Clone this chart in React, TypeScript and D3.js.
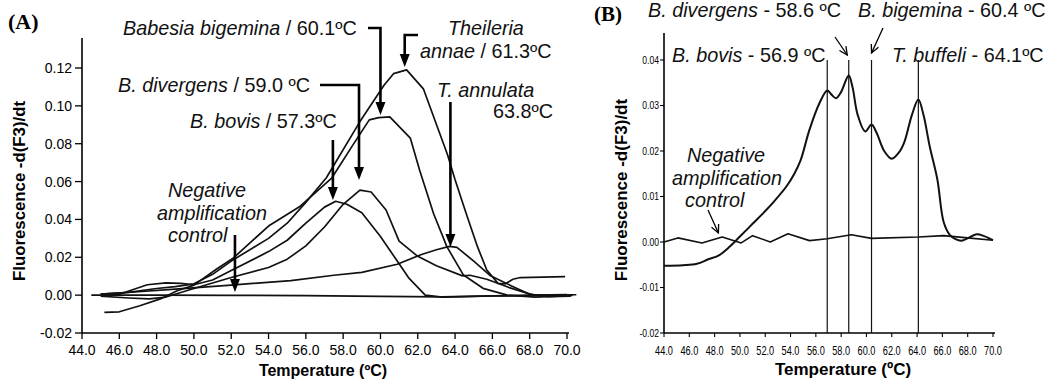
import * as d3 from 'd3'

// ---- data (temperature ºC, -d(F3)/dt) ----
const TEMP_TICKS = [44, 46, 48, 50, 52, 54, 56, 58, 60, 62, 64, 66, 68, 70]
const A_Y_TICKS = [-0.02, 0, 0.02, 0.04, 0.06, 0.08, 0.1, 0.12]
const B_Y_TICKS = [-0.02, -0.01, 0, 0.01, 0.02, 0.03, 0.04]

type Pt = [number, number]

const A_BIGEMINA: Pt[] = [
  [45.2, -0.0091], [46.0, -0.0088], [47.1, -0.0056], [48.2, -0.002], [49.1, 0.0023], [50.0, 0.0053],
  [51.2, 0.0137], [52.1, 0.0195], [54.0, 0.0365], [55.7, 0.047], [57.4, 0.062], [58.5, 0.079],
  [59.4, 0.0926], [59.9, 0.0938], [60.5, 0.0942], [61.6, 0.083], [62.1, 0.066], [62.85, 0.043],
  [63.56, 0.0256], [64.45, 0.0106], [65.5, 0.0036], [66.8, 0.0], [68.3, -0.001], [70.2, -0.0003],
]
const A_ANNAE: Pt[] = [
  [45.0, 0.0005], [46.5, 0.0015], [48.0, 0.0035], [49.0, 0.0045], [50.0, 0.006], [51.0, 0.011],
  [52.0, 0.018], [54.0, 0.03], [55.0, 0.038], [56.0, 0.049], [57.1, 0.062], [58.9, 0.0917],
  [60.2, 0.111], [60.7, 0.117], [61.4, 0.119], [62.3, 0.109], [63.6, 0.074], [64.0, 0.061],
  [64.6, 0.043], [65.2, 0.0256], [65.7, 0.0133], [66.3, 0.0062], [66.7, 0.006], [67.1, 0.0084],
  [67.5, 0.0093], [69.9, 0.0098],
]
const A_DIVERGENS: Pt[] = [
  [45.0, -0.0005], [46.5, -0.0015], [47.6, -0.002], [48.5, -0.001], [50.0, 0.0035], [52.0, 0.0093],
  [54.0, 0.0146], [55.0, 0.019], [56.0, 0.026], [57.0, 0.036], [58.0, 0.048], [58.9, 0.0555],
  [59.5, 0.0545], [60.3, 0.045], [61.0, 0.0285], [62.0, 0.0205], [63.0, 0.0155], [64.4, 0.0102],
  [64.8, 0.0105], [65.7, 0.0084], [66.9, 0.004], [68.2, 0.0], [70.0, 0.0003],
]
const A_BOVIS: Pt[] = [
  [45.0, 0.0], [46.0, 0.0005], [47.5, 0.0055], [48.5, 0.0065], [49.3, 0.0062], [50.0, 0.0055],
  [51.0, 0.008], [52.0, 0.013], [54.0, 0.023], [55.0, 0.029], [56.0, 0.038], [57.0, 0.0465],
  [57.6, 0.0496], [58.2, 0.048], [59.0, 0.0435], [60.0, 0.031], [60.9, 0.018], [61.5, 0.0093],
  [62.4, 0.0], [63.3, -0.001], [64.5, -0.0008], [66.0, -0.0004], [70.3, -0.0002],
]
const A_ANNULATA: Pt[] = [
  [45.0, 0.0005], [47.0, 0.0018], [49.0, 0.0032], [52.0, 0.0053], [55.2, 0.0077], [57.5, 0.0105],
  [59.0, 0.012], [60.9, 0.0163], [62.2, 0.0215], [63.0, 0.024], [63.7, 0.0258], [64.1, 0.0252],
  [65.0, 0.018], [65.9, 0.0102], [67.0, 0.005], [68.0, 0.0005], [69.0, -0.0008], [70.2, -0.0005],
]
const A_NEGATIVE: Pt[] = [
  [44.5, 0.0], [48.0, 0.0], [52.0, -0.0001], [56.0, -0.0003], [60.0, -0.0006], [63.3, -0.0009],
  [66.0, -0.0004], [68.0, 0.0], [70.5, 0.0002],
]

const B_SAMPLE: Pt[] = [
  [44.0, -0.0052], [45.5, -0.0051], [46.6, -0.0048], [47.5, -0.0038], [48.3, -0.003], [49.2, -0.001],
  [50.0, 0.0012], [51.0, 0.004], [52.0, 0.0068], [52.6, 0.0086], [53.7, 0.0123], [54.3, 0.015],
  [54.8, 0.018], [55.5, 0.0247], [56.3, 0.0306], [56.9, 0.0333], [57.2, 0.0325], [57.6, 0.0316],
  [58.0, 0.033], [58.6, 0.0366], [58.9, 0.034], [59.3, 0.028], [59.9, 0.0243], [60.4, 0.0258],
  [60.8, 0.024], [61.4, 0.02], [62.0, 0.0183], [62.6, 0.0198], [63.0, 0.022], [63.6, 0.028],
  [64.1, 0.0313], [64.5, 0.028], [65.0, 0.021], [65.6, 0.0138], [66.1, 0.0044], [66.6, 0.0015],
  [67.0, 0.0007], [67.5, 0.0003], [68.0, 0.0008], [68.7, 0.0017], [69.3, 0.0013], [70.0, 0.0004],
]
const B_NEGATIVE: Pt[] = [
  [44.0, 0.0], [45.1, 0.0009], [47.0, -0.0002], [48.6, 0.0011], [50.1, -0.0002], [51.0, 0.0014],
  [52.4, 0.0], [53.8, 0.0018], [55.5, 0.0003], [56.9, 0.0007], [58.8, 0.0016], [60.4, 0.0008],
  [64.1, 0.0011], [66.1, 0.0014], [68.0, 0.0009], [70.0, 0.0004],
]

// melting temperatures marked in panel B
const B_TM = [56.9, 58.6, 60.4, 64.1]

// ---- layout ----
const SANS = '"Liberation Sans", Arial, sans-serif'
const xA = d3.scaleLinear().domain([44, 70]).range([82, 567])
const yA = d3.scaleLinear().domain([-0.02, 0.12]).range([333, 68])
const xB = d3.scaleLinear().domain([44, 70]).range([664, 993])
const yB = d3.scaleLinear().domain([-0.02, 0.04]).range([333, 60])

const lineA = d3.line<Pt>().x(d => xA(d[0])).y(d => yA(d[1]))
const lineB = d3.line<Pt>().x(d => xB(d[0])).y(d => yB(d[1])).curve(d3.curveCatmullRom.alpha(0.5))
const lineBNeg = d3.line<Pt>().x(d => xB(d[0])).y(d => yB(d[1]))

function Head({ x, tip }: { x: number; tip: number }) {
  return <path d={`M${x - 5},${tip - 13}L${x + 5},${tip - 13}L${x},${tip}Z`} fill="#000" />
}

// leader line with a filled arrow head (panel A)
function Leader({ from, x, tip }: { from: [number, number]; x: number; tip: number }) {
  return (
    <g>
      <path d={`M${from[0]},${from[1]}H${x}V${tip - 12}`} fill="none" stroke="#000" strokeWidth={2.6} />
      <Head x={x} tip={tip} />
    </g>
  )
}

// thin line arrow with open head (panel B)
function ThinArrow({ x1, y1, x2, y2 }: { x1: number; y1: number; x2: number; y2: number }) {
  const a = Math.atan2(y2 - y1, x2 - x1)
  const L = 9
  const h1 = [x2 - L * Math.cos(a - 0.45), y2 - L * Math.sin(a - 0.45)]
  const h2 = [x2 - L * Math.cos(a + 0.45), y2 - L * Math.sin(a + 0.45)]
  return (
    <g stroke="#000" strokeWidth={1.3} fill="none">
      <line x1={x1} y1={y1} x2={x2} y2={y2} />
      <path d={`M${h1[0]},${h1[1]}L${x2},${y2}L${h2[0]},${h2[1]}`} />
    </g>
  )
}

function Lab({ x, y, it, rest, anchor = 'start' }: { x: number; y: number; it?: string; rest?: string; anchor?: string }) {
  return (
    <text x={x} y={y} fontFamily={SANS} fontSize={19.8} textAnchor={anchor as any} fill="#111">
      {it && <tspan fontStyle="italic">{it}</tspan>}
      {rest}
    </text>
  )
}

export default function App() {
  const curvesA = [A_BIGEMINA, A_ANNAE, A_DIVERGENS, A_BOVIS, A_ANNULATA, A_NEGATIVE]
  return (
    <svg width={1051} height={379} style={{ position: 'absolute', left: 0, top: 0, background: '#fff' }}>
      {/* ---------- Panel A ---------- */}
      <text x={8} y={29} fontFamily='"Liberation Serif", "Times New Roman", serif' fontWeight="bold" fontSize={22}>(A)</text>

      <line x1={82} x2={82} y1={38} y2={333} stroke="#000" strokeWidth={1.6} />
      <line x1={82} x2={569} y1={333} y2={333} stroke="#000" strokeWidth={1.6} />
      {A_Y_TICKS.map(t => (
        <g key={t}>
          <line x1={75} x2={82} y1={yA(t)} y2={yA(t)} stroke="#000" strokeWidth={1.3} />
          <text x={72} y={yA(t)} dy="0.36em" textAnchor="end" fontFamily={SANS} fontSize={14}>{t.toFixed(2)}</text>
        </g>
      ))}
      {TEMP_TICKS.map(t => (
        <g key={t}>
          <line x1={xA(t)} x2={xA(t)} y1={333} y2={339} stroke="#000" strokeWidth={1.3} />
          <text x={xA(t)} y={355} textAnchor="middle" fontFamily={SANS} fontSize={14}>{t.toFixed(1)}</text>
        </g>
      ))}
      <text x={323} y={376} textAnchor="middle" fontFamily={SANS} fontWeight="bold" fontSize={16}>Temperature (ºC)</text>
      <text transform="translate(19,191) rotate(-90)" textAnchor="middle" dy="0.35em" fontFamily={SANS} fontWeight="bold" fontSize={16.8}>
        Fluorescence -d(F3)/dt
      </text>

      {curvesA.map((c, i) => (
        <path key={i} d={lineA(c) ?? ''} fill="none" stroke="#111" strokeWidth={1.7} strokeLinejoin="round" />
      ))}

      {/* annotations A */}
      <Lab x={123} y={35} it="Babesia bigemina" rest=" / 60.1ºC" />
      <Leader from={[368, 28]} x={xA(60.0)} tip={yA(0.0952)} />

      <Lab x={448} y={35} it="Theileria" />
      <Lab x={420} y={58} it="annae" rest=" / 61.3ºC" />
      <Leader from={[418, 35]} x={xA(61.3)} tip={yA(0.1205)} />

      <Lab x={118} y={92} it="B. divergens" rest=" / 59.0 ºC" />
      <Leader from={[320, 85]} x={xA(58.85)} tip={yA(0.0608)} />

      <Lab x={190} y={128} it="B. bovis" rest=" / 57.3ºC" />
      <Leader from={[xA(57.45), 140]} x={xA(57.45)} tip={yA(0.0503)} />

      <Lab x={437} y={97} it="T. annulata" />
      <Lab x={553} y={118} rest="63.8ºC" anchor="end" />
      <Leader from={[xA(63.75), 102]} x={xA(63.75)} tip={yA(0.0255)} />

      <Lab x={168} y={197} it="Negative" />
      <Lab x={157} y={220} it="amplification" />
      <Lab x={168} y={242} it="control" />
      <Leader from={[xA(52.2), 235]} x={xA(52.2)} tip={yA(0.0017)} />

      {/* ---------- Panel B ---------- */}
      <text x={594} y={21} fontFamily='"Liberation Serif", "Times New Roman", serif' fontWeight="bold" fontSize={21}>(B)</text>

      <line x1={664} x2={664} y1={33} y2={333} stroke="#000" strokeWidth={1.6} />
      <line x1={664} x2={995} y1={333} y2={333} stroke="#000" strokeWidth={1.6} />
      {B_Y_TICKS.map(t => (
        <g key={t}>
          <line x1={660} x2={664} y1={yB(t)} y2={yB(t)} stroke="#000" strokeWidth={1.1} />
          <text transform={`translate(659,${yB(t)}) scale(0.78,1)`} dy="0.36em" textAnchor="end" fontFamily={SANS} fontSize={11}>
            {t.toFixed(2)}
          </text>
        </g>
      ))}
      {TEMP_TICKS.map(t => (
        <g key={t}>
          <line x1={xB(t)} x2={xB(t)} y1={333} y2={337} stroke="#000" strokeWidth={1.1} />
          <text transform={`translate(${xB(t)},355) scale(0.68,1)`} textAnchor="middle" fontFamily={SANS} fontSize={13.5}>
            {t.toFixed(1)}
          </text>
        </g>
      ))}
      <text x={843} y={375} textAnchor="middle" fontFamily={SANS} fontWeight="bold" fontSize={17}>Temperature (ºC)</text>
      <text transform="translate(621,190) rotate(-90)" textAnchor="middle" dy="0.35em" fontFamily={SANS} fontWeight="bold" fontSize={17}>
        Fluorescence -d(F3)/dt
      </text>

      {B_TM.map(t => (
        <line key={t} x1={xB(t)} x2={xB(t)} y1={yB(0.04)} y2={333} stroke="#111" strokeWidth={1.2} />
      ))}
      <path d={lineBNeg(B_NEGATIVE) ?? ''} fill="none" stroke="#111" strokeWidth={1.6} strokeLinejoin="round" />
      <path d={lineB(B_SAMPLE) ?? ''} fill="none" stroke="#111" strokeWidth={2} strokeLinejoin="round" />

      <Lab x={648} y={17} it="B. divergens" rest=" - 58.6 ºC" />
      <Lab x={858} y={17} it="B. bigemina" rest=" - 60.4 ºC" />
      <Lab x={672} y={62} it="B. bovis" rest=" - 56.9 ºC" />
      <Lab x={892} y={62} it="T. buffeli" rest=" - 64.1ºC" />
      <ThinArrow x1={835} y1={37} x2={xB(58.6) - 1.5} y2={55} />
      <ThinArrow x1={883} y1={28} x2={xB(60.4)} y2={53} />

      <Lab x={687} y={162} it="Negative" />
      <Lab x={672} y={185} it="amplification" />
      <Lab x={685} y={207} it="control" />
      <ThinArrow x1={708} y1={210} x2={xB(48.3)} y2={yB(0.002)} />
    </svg>
  )
}
